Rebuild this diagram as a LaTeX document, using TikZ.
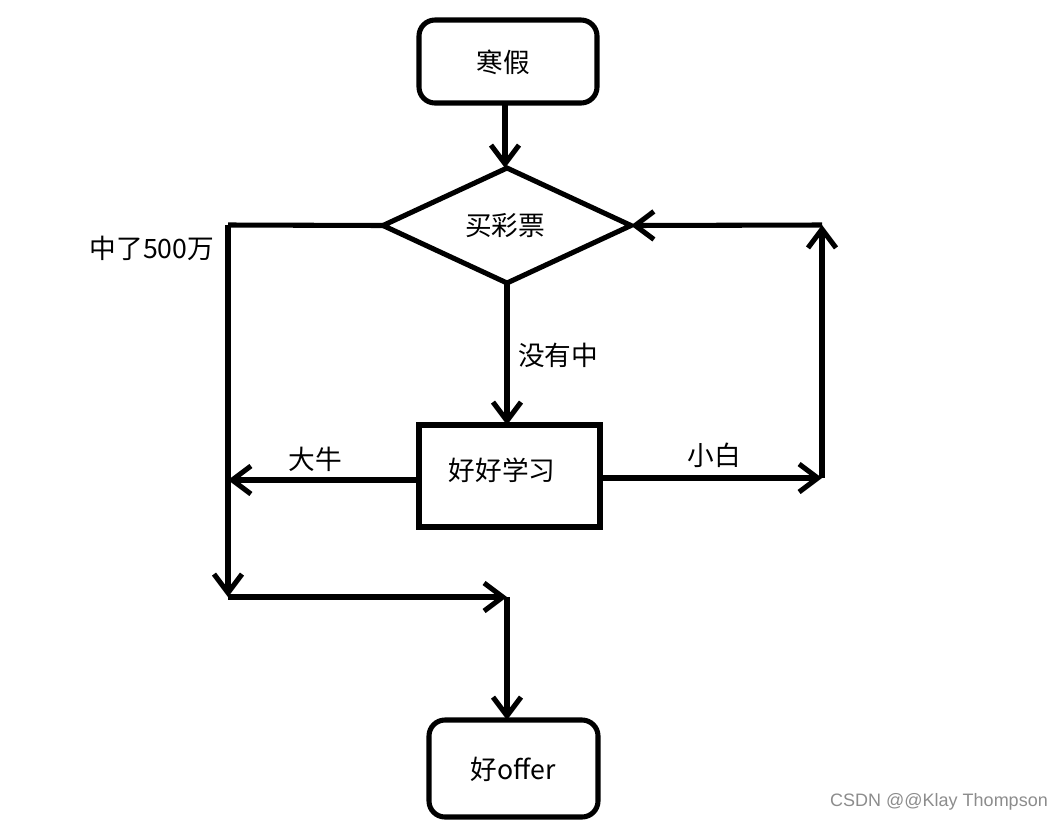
\documentclass[tikz,border=0pt]{standalone}
\usepackage{fontspec}
\setmainfont{Noto Sans CJK SC}
\newfontfamily\wmfont{Liberation Sans}
\usetikzlibrary{shapes.geometric,arrows.meta}
\begin{document}
\begin{tikzpicture}[x=0.75pt,y=-0.75pt,
  every node/.style={font=\fontsize{20pt}{23pt}\selectfont, outer sep=0pt, inner sep=0pt},
  ln/.style={line width=3.8pt},
  arr/.style={ln, -{Straight Barb[length=14pt,width=21pt,line width=3.8pt]}},
  roundbox/.style={ln, draw, rounded corners=12pt},
  plainbox/.style={ln, draw},
  lbl/.style={}
]
\useasboundingbox (0,0) rectangle (1064,822);
% start box
\node[roundbox, minimum width=178*0.75pt, minimum height=83*0.75pt] (start) at (508,61.5) {};
\node (starttxt) at (503,62) {寒假};
% decision
\node[ln, draw, diamond, aspect=2.16, minimum width=248*0.75pt, minimum height=115*0.75pt] (dec) at (507,225.5) {};
\node (dectxt) at (505,226) {买彩票};
% study box
\node[plainbox, minimum width=181*0.75pt, minimum height=102*0.75pt] (study) at (509.5,476) {};
\node (studytxt) at (502,470) {好好学习};
% end box
\node[roundbox, minimum width=169*0.75pt, minimum height=97*0.75pt] (offer) at (513.5,768.5) {};
\node (offertxt) at (513,769) {好offer};

% coordinates
\coordinate (tl) at (228,225);
\coordinate (ml) at (228,480);
\coordinate (bl) at (228,597);
\coordinate (bm) at (507,597);
\coordinate (rb) at (822,478);
\coordinate (rt) at (822,225);
\coordinate (sl) at (study.west |- ml);
\coordinate (sr) at (study.east |- rb);

\draw[arr] (start.south -| 505,0) -- (505,168);
\draw[arr] (dec.south) -- (study.north -| dec.south);
\draw[ln] (dec.west) -- (tl);
\draw[arr] (tl) -- (bl);
\draw[arr] (sl) -- (ml);
\draw[arr] (sr) -- (rb);
\draw[arr] (rb) -- (rt);
\draw[arr] (rt) -- (dec.east);
\draw[arr] (bl) -- (bm);
\draw[arr] (bm) -- (offer.north -| bm);

% labels
\node[lbl] (l500) at (152,248) {中了500万};
\node[lbl] (lno) at (558,355) {没有中};
\node[lbl] (lbig) at (315,459) {大牛};
\node[lbl] (lsmall) at (714,455) {小白};
\node[font=\wmfont\fontsize{13.5pt}{16pt}\selectfont, text=black!45] (wm) at (939,802) {CSDN @@Klay Thompson};
\end{tikzpicture}
\end{document}
